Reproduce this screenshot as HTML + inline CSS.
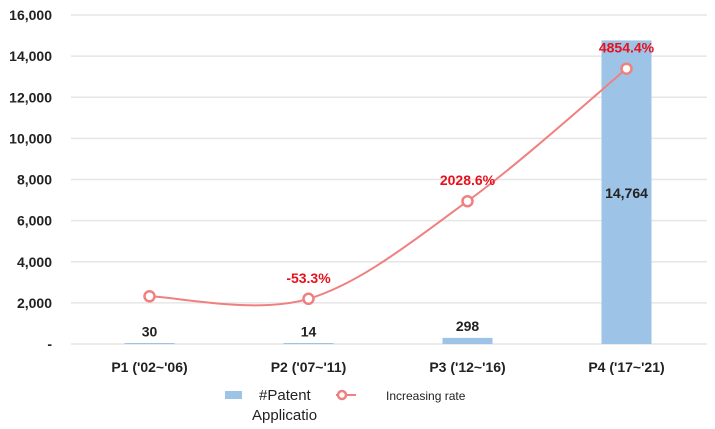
<!DOCTYPE html>
<html><head><meta charset="utf-8"><style>
body{margin:0;background:#fff;}
svg{display:block;font-family:"Liberation Sans",sans-serif;}
</style></head><body>
<svg id="chart" width="715" height="429"></svg>
<script>
const categories=["P1 ('02~'06)","P2 ('07~'11)","P3 ('12~'16)","P4 ('17~'21)"];
const patentCounts=[30,14,298,14764];
const countLabels=["30","14","298","14,764"];
const rates=[0,-53.3,2028.6,4854.4];
const rateLabels=["","-53.3%","2028.6%","4854.4%"];
const yTicks=[0,2000,4000,6000,8000,10000,12000,14000,16000];
const yTickLabels=["-","2,000","4,000","6,000","8,000","10,000","12,000","14,000","16,000"];

const NS="http://www.w3.org/2000/svg";
const svg=document.getElementById('chart');
const x0=71,x1=707,yBase=344,yTop=15;
const band=(x1-x0)/categories.length;
function x(i){return x0+band*(i+0.5)-1;}
function y(v){return yBase-(v/16000)*(yBase-yTop);}
function y2(r){return y(2320+2.28*r);}
function mk(tag,attrs,name,text){const e=document.createElementNS(NS,tag);for(const k in attrs)e.setAttribute(k,attrs[k]);


if(text!==undefined)e.textContent=text;svg.appendChild(e);return e;}

yTicks.forEach((t,i)=>{
  mk('line',{x1:x0,x2:x1,y1:y(t),y2:y(t),stroke:'#e6e6e6','stroke-width':1.5},'gridline');
  mk('text',{x:52,y:y(t)+5,'text-anchor':'end','font-size':14,'font-weight':'bold',fill:'#222'},'y-tick-label',yTickLabels[i]);
});
patentCounts.forEach((v,i)=>{
  const h=Math.max(yBase-y(v),1);
  mk('rect',{x:x(i)-25,y:yBase-h,width:50,height:h,fill:'#9dc3e6'},'bar-'+(i+1));
  const ly=v>5000?(y(v)+yBase)/2+6:y(v)-7;
  mk('text',{x:x(i),y:ly,'text-anchor':'middle','font-size':14,'font-weight':'bold',fill:'#222'},'bar-value-label',countLabels[i]);
  mk('text',{x:x(i),y:372,'text-anchor':'middle','font-size':14,'font-weight':'bold',fill:'#222'},'x-tick-label',categories[i]);
});
const pts=rates.map((r,i)=>[x(i),y2(r)]);
let d='M'+pts[0][0]+','+pts[0][1];
for(let i=0;i<pts.length-1;i++){
  const p0=pts[Math.max(i-1,0)],p1=pts[i],p2=pts[i+1],p3=pts[Math.min(i+2,pts.length-1)];
  const c1=[p1[0]+(p2[0]-p0[0])/6,p1[1]+(p2[1]-p0[1])/6],c2=[p2[0]-(p3[0]-p1[0])/6,p2[1]-(p3[1]-p1[1])/6];
  d+=' C'+c1+' '+c2+' '+p2;
}
mk('path',{d:d,fill:'none',stroke:'#f08080','stroke-width':2},'rate-line');
pts.forEach((p,i)=>{
  mk('circle',{cx:p[0],cy:p[1],r:5,fill:'#fff',stroke:'#f08080','stroke-width':2.5},'rate-point');
  if(rateLabels[i])mk('text',{x:p[0],y:p[1]-16,'text-anchor':'middle','font-size':14,'font-weight':'bold',fill:'#e8101c'},'rate-label',rateLabels[i]);
});
// legend
mk('rect',{x:225,y:391,width:17,height:8,fill:'#9dc3e6'},'legend-bar-swatch');
mk('text',{x:259,y:400,'font-size':15,fill:'#222'},'legend-bar-label-1','#Patent');
mk('text',{x:252,y:420,'font-size':15,fill:'#222'},'legend-bar-label-2','Applicatio');
mk('line',{x1:336,x2:356,y1:395,y2:395,stroke:'#f08080','stroke-width':2},'legend-line-swatch');
mk('circle',{cx:342,cy:395,r:4,fill:'#fff',stroke:'#f08080','stroke-width':2.5},'legend-marker');
mk('text',{x:386,y:400,'font-size':12,fill:'#222'},'legend-rate-label','Increasing rate');
</script>
</body></html>
